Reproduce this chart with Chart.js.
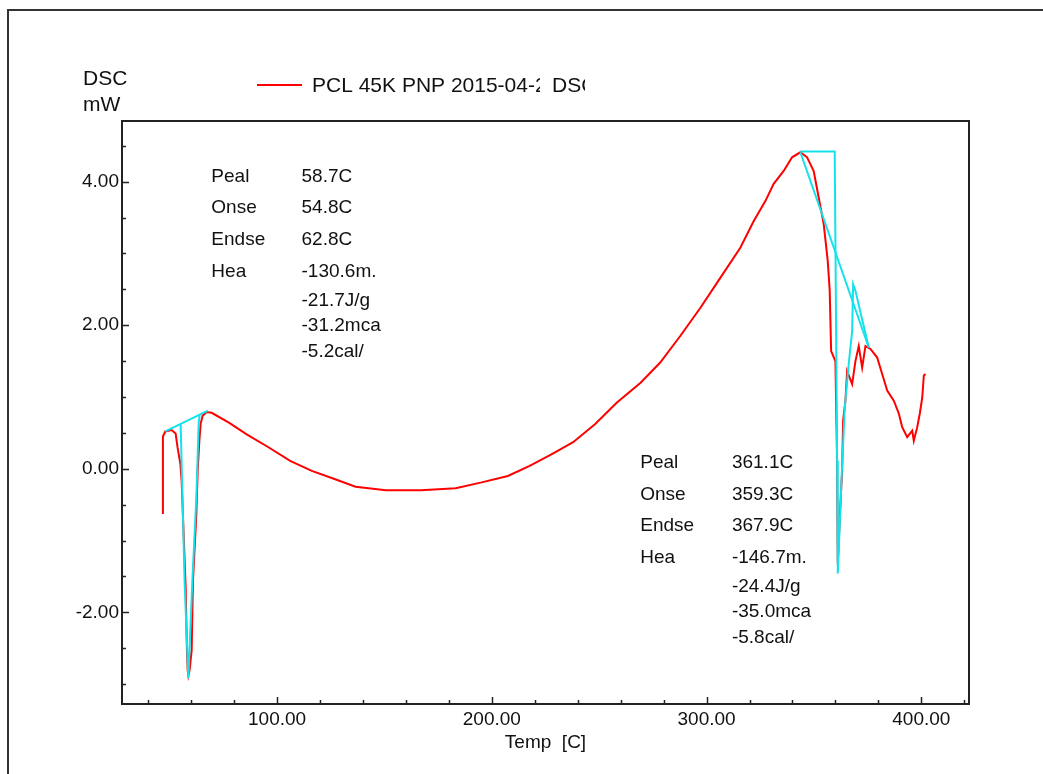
<!DOCTYPE html>
<html>
<head>
<meta charset="utf-8">
<script src="https://cdn.jsdelivr.net/npm/chart.js@4.4.1/dist/chart.umd.min.js"></script>
<style>
  html, body { margin: 0; padding: 0; background: #fff; }
  #wrap { width: 1043px; height: 774px; }
</style>
</head>
<body>
<div id="wrap"><canvas id="dscChart" width="1043" height="774"></canvas></div>
<script>
// DSC trace: temperature (C) and heat flow (mW)
var tempC = [46.85, 46.85, 47.97, 50.91, 52.77, 53.71, 54.97, 55.57, 56.50, 57.44, 58.04, 58.40, 58.70, 59.30,
  60.23, 60.84, 61.63, 62.42, 63.03, 63.82, 64.43, 65.36, 67.23, 69.56, 77.76, 85.87, 95.99, 106.11, 116.18,
  126.43, 136.55, 150.68, 166.99, 183.17, 195.29, 207.46, 217.62, 227.74, 237.86, 248.02, 258.14, 269.28,
  278.41, 287.74, 297.06, 306.39, 315.71, 321.91, 327.37, 331.24, 335.90, 339.81, 343.68, 346.81, 349.88,
  352.21, 354.55, 356.41, 357.34, 358.00, 360.00, 360.70, 361.10, 362.33, 363.12, 363.59, 364.66, 365.45,
  367.78, 369.32, 370.86, 372.45, 373.99, 376.32, 379.44, 381.77, 384.10, 387.18, 389.51, 391.10, 393.43,
  395.76, 396.50, 398.09, 399.30, 400.42, 401.17, 401.96];
var dscMw = [-0.63, 0.45, 0.52, 0.54, 0.49, 0.29, 0.07, -0.17, -0.91, -1.66, -2.53, -2.81, -2.88, -2.80,
  -2.53, -1.56, -1.10, -0.63, -0.03, 0.39, 0.63, 0.74, 0.79, 0.78, 0.64, 0.48, 0.30, 0.11, -0.03,
  -0.14, -0.25, -0.30, -0.30, -0.27, -0.19, -0.10, 0.04, 0.20, 0.37, 0.62, 0.92, 1.20,
  1.48, 1.85, 2.24, 2.66, 3.08, 3.45, 3.73, 3.97, 4.15, 4.34, 4.41, 4.34, 4.15,
  3.78, 3.41, 2.90, 2.48, 1.64, 1.50, 0.25, -1.32, -0.49, -0.03, 0.67, 0.95, 1.36,
  1.18, 1.50, 1.71, 1.41, 1.71, 1.67, 1.55, 1.32, 1.09, 0.95, 0.77, 0.58, 0.44,
  0.53, 0.39, 0.58, 0.77, 0.99, 1.30, 1.32];

// integration baselines and peak construction lines
var base1T = [47.97, 67.83];
var base1Mw = [0.52, 0.81];
var peak1T = [55.10, 56.97, 58.70, 60.56, 62.42, 63.50, 63.96];
var peak1Mw = [0.62, -1.60, -2.92, -1.56, -0.40, 0.63, 0.75];
var base2T = [343.68, 375.52];
var base2Mw = [4.41, 1.69];
var peak2T = [343.68, 359.67, 360.79, 361.10, 362.81, 364.34, 366.20, 367.79, 368.25, 369.32, 375.52];
var peak2Mw = [4.42, 4.42, 0.11, -1.46, -0.17, 0.85, 1.46, 1.92, 2.57, 2.48, 1.69];

// tick positions
var xTicks = [40, 60, 80, 100, 120, 140, 160, 180, 200, 220, 240, 260, 280, 300, 320, 340, 360, 380, 400, 420];
var yTicks = [-3, -2.5, -2, -1.5, -1, -0.5, 0, 0.5, 1, 1.5, 2, 2.5, 3, 3.5, 4, 4.5];

// peak result tables
var resultNames = ["Peal", "Onse", "Endse", "Hea"];
var peak1Results = ["58.7C", "54.8C", "62.8C", "-130.6m.", "-21.7J/g", "-31.2mca", "-5.2cal/"];
var peak2Results = ["361.1C", "359.3C", "367.9C", "-146.7m.", "-24.4J/g", "-35.0mca", "-5.8cal/"];
var rowOffsets = [0, 31.5, 63, 95, 124, 149, 175];

var FONT = '"Liberation Sans", Arial, sans-serif';
var RED = "#ff0000";
var CYAN = "#14e2ea";

function pts(xs, ys) {
  return xs.map(function (t, i) { return { x: t, y: ys[i] }; });
}

function cyanSet(label, xs, ys) {
  return { label: label, data: pts(xs, ys), borderColor: CYAN, borderWidth: 2,
    pointRadius: 0, tension: 0, order: 0 };
}

// outer frame, plot frame and inward tick marks
var framePlugin = {
  id: "framePlugin",
  afterDraw: function (chart) {
    var ctx = chart.ctx, a = chart.chartArea;
    var xs = chart.scales.x, ys = chart.scales.y;
    ctx.save();
    ctx.strokeStyle = "#333";
    ctx.lineWidth = 2;
    ctx.beginPath();
    ctx.moveTo(8, 774);
    ctx.lineTo(8, 10);
    ctx.lineTo(1043, 10);
    ctx.stroke();

    ctx.strokeStyle = "#222";
    ctx.strokeRect(a.left, a.top, a.right - a.left, a.bottom - a.top);

    ctx.lineWidth = 1.5;
    ctx.beginPath();
    xs.ticks.forEach(function (t) {
      var px = Math.round(xs.getPixelForValue(t.value)) + 0.5;
      var len = t.value % 100 === 0 ? 7 : 4;
      ctx.moveTo(px, a.bottom);
      ctx.lineTo(px, a.bottom - len);
    });
    ys.ticks.forEach(function (t) {
      var py = Math.round(ys.getPixelForValue(t.value)) + 0.5;
      var len = t.value % 2 === 0 ? 7 : 4;
      ctx.moveTo(a.left, py);
      ctx.lineTo(a.left + len, py);
    });
    ctx.stroke();
    ctx.restore();
  }
};

// axis unit, legend and the peak result tables
var textPlugin = {
  id: "textPlugin",
  afterDraw: function (chart) {
    var ctx = chart.ctx;
    var xs = chart.scales.x, ys = chart.scales.y;
    ctx.save();
    ctx.fillStyle = "#111";
    ctx.textBaseline = "middle";
    ctx.textAlign = "left";
    ctx.font = "21px " + FONT;
    ctx.fillText("DSC", 83, 79);
    ctx.fillText("mW", 83, 105);

    ctx.strokeStyle = RED;
    ctx.lineWidth = 2;
    ctx.beginPath();
    ctx.moveTo(257, 85);
    ctx.lineTo(302, 85);
    ctx.stroke();

    // legend entry is cut off by its fixed-width label fields
    ctx.save();
    ctx.beginPath();
    ctx.rect(310, 60, 230, 50);
    ctx.clip();
    ctx.fillText("PCL 45K PNP 2015-04-2", 312, 86);
    ctx.restore();
    ctx.save();
    ctx.beginPath();
    ctx.rect(550, 60, 35, 50);
    ctx.clip();
    ctx.fillText("DSC", 552, 86);
    ctx.restore();

    ctx.font = "19px " + FONT;
    function table(nameT, valueT, topMw, values) {
      var nx = xs.getPixelForValue(nameT);
      var vx = xs.getPixelForValue(valueT);
      var y0 = ys.getPixelForValue(topMw);
      resultNames.forEach(function (n, i) {
        ctx.fillText(n, nx, y0 + rowOffsets[i]);
      });
      values.forEach(function (v, i) {
        ctx.fillText(v, vx, y0 + rowOffsets[i]);
      });
    }
    table(69.4, 111.4, 4.07, peak1Results);
    table(269.1, 311.8, 0.077, peak2Results);
    ctx.restore();
  }
};

var chart = new Chart("dscChart", {
  type: "line",
  data: {
    datasets: [
      { label: "PCL 45K PNP 2015-04-2 DSC", data: pts(tempC, dscMw), borderColor: RED,
        borderWidth: 2, pointRadius: 0, tension: 0, order: 1 },
      cyanSet("baseline 1", base1T, base1Mw),
      cyanSet("peak 1", peak1T, peak1Mw),
      cyanSet("baseline 2", base2T, base2Mw),
      cyanSet("peak 2", peak2T, peak2Mw)
    ]
  },
  options: {
    responsive: false,
    animation: false,
    layout: { padding: { left: 62, right: 74, top: 121, bottom: 10 } },
    plugins: {
      legend: { display: false },
      tooltip: { enabled: false }
    },
    scales: {
      x: {
        type: "linear",
        position: "bottom",
        min: 27.8,
        max: 422.2,
        grid: { display: false, drawTicks: false },
        border: { display: false },
        afterBuildTicks: function (scale) {
          scale.ticks = xTicks.map(function (v) { return { value: v }; });
        },
        afterFit: function (scale) {
          scale.height = 60;
          scale.paddingLeft = 0;
          scale.paddingRight = 0;
        },
        ticks: {
          autoSkip: false,
          maxRotation: 0,
          padding: 4,
          color: "#111",
          font: { family: FONT, size: 19 },
          callback: function (v) { return v % 100 === 0 ? v.toFixed(2) : ""; }
        },
        title: {
          display: true,
          text: "Temp  [C]",
          color: "#111",
          font: { family: FONT, size: 19 },
          padding: { top: 0, bottom: 10 }
        }
      },
      y: {
        type: "linear",
        min: -3.278,
        max: 4.846,
        grid: { display: false, drawTicks: false },
        border: { display: false },
        afterBuildTicks: function (scale) {
          scale.ticks = yTicks.map(function (v) { return { value: v }; });
        },
        afterFit: function (scale) {
          scale.width = 60;
          scale.paddingTop = 0;
          scale.paddingBottom = 0;
        },
        ticks: {
          autoSkip: false,
          padding: 3,
          color: "#111",
          font: { family: FONT, size: 19 },
          callback: function (v) { return v % 2 === 0 ? v.toFixed(2) : ""; }
        }
      }
    }
  },
  plugins: [framePlugin, textPlugin]
});
</script>
</body>
</html>
